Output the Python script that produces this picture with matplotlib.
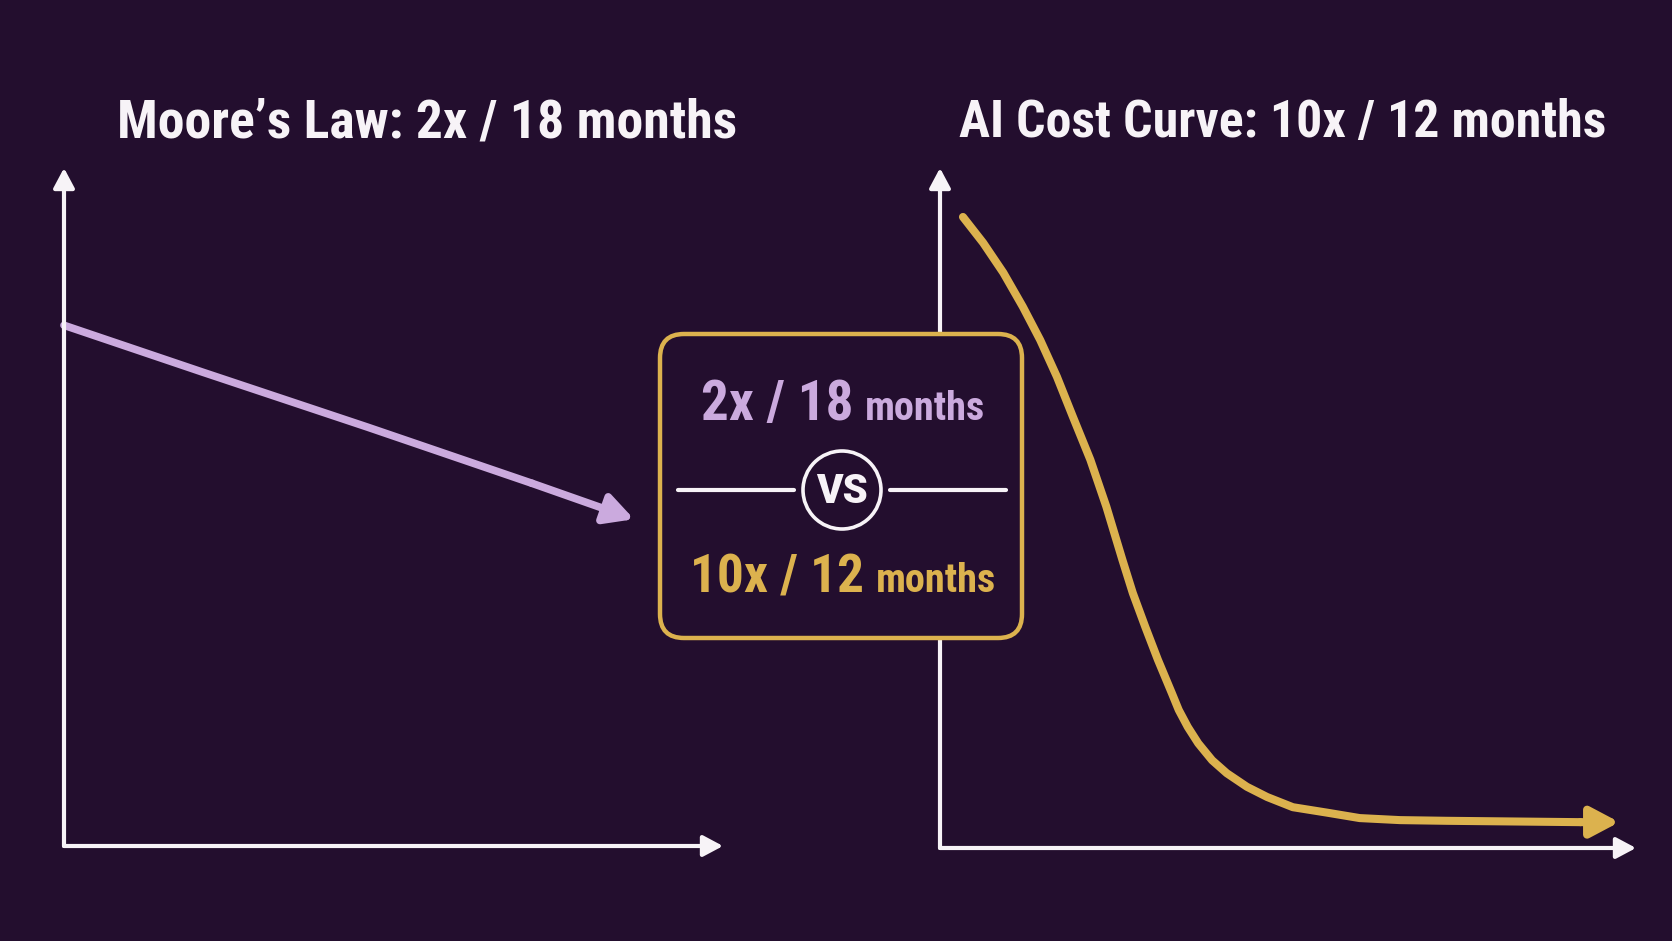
import matplotlib
matplotlib.use('Agg')
import matplotlib.pyplot as plt
from matplotlib import font_manager
from matplotlib.patches import FancyBboxPatch, Circle

# colours
bg = '#230e2e'
purple = '#cbaade'
gold = '#dcb24e'
white = '#f7f3f7'

# pick a condensed bold face if one is installed, otherwise Roboto
avail = {f.name for f in font_manager.fontManager.ttflist}
font = 'Roboto'
for name in ['Roboto Condensed', 'Liberation Sans Narrow', 'Open Sans Condensed',
             'DejaVu Sans Condensed']:
    if name in avail:
        font = name
        break
plt.rcParams['font.family'] = [font, 'DejaVu Sans']

# data (time and relative cost, both 0-100 of each chart's axes)
moore_t = [0, 21, 46, 71, 86.5]
moore_cost = [76.8, 69.9, 61.8, 53.5, 48.2]

ai_t = [3.3, 6.2, 9.1, 11.9, 14.4, 16.8, 19.1, 21.6, 23.9, 26.2, 27.7, 29.5,
        31.3, 33.3, 34.3, 35.6, 37.1, 39.1, 41.2, 44.1, 47.0, 50.7, 55.6, 60.3,
        66.1, 72.8, 92.0, 97.6]
ai_cost = [92.8, 89.0, 84.6, 79.6, 74.7, 69.3, 63.4, 57.1, 50.2, 42.4, 37.5, 32.5,
           27.7, 22.8, 20.3, 17.8, 15.4, 12.9, 11.0, 9.0, 7.5, 6.0, 5.2, 4.4,
           4.1, 4.0, 3.8, 3.8]

titles = ['Moore\u2019s Law: 2x / 18 months', 'AI Cost Curve: 10x / 12 months']
box_big = ['2x / 18', '10x / 12']
box_small = 'months'

W, H = 1672, 941
fig = plt.figure(figsize=(W / 100, H / 100), dpi=100, facecolor=bg)


def chart_axes(x0, x1, ybot, ytop):
    ax = fig.add_axes([x0 / W, (H - ybot) / H, (x1 - x0) / W, (ybot - ytop) / H])
    ax.set_xlim(0, 100); ax.set_ylim(0, 100)
    ax.axis('off')
    ax.patch.set_alpha(0)
    for xy in [(0, 1), (1, 0)]:
        ax.annotate('', xy=xy, xytext=(0, 0), xycoords='axes fraction',
                    arrowprops=dict(arrowstyle='-|>,head_length=0.75,head_width=0.4',
                                    color=white, lw=3.0, shrinkA=0, shrinkB=0,
                                    mutation_scale=16))
    return ax


def arrow_line(ax, x, y, color, lw):
    ax.plot(x[:-1], y[:-1], color=color, lw=lw, solid_capstyle='round',
            solid_joinstyle='round', clip_on=False)
    ax.annotate('', xy=(x[-1], y[-1]), xytext=(x[-2], y[-2]),
                arrowprops=dict(arrowstyle='-|>,head_length=0.85,head_width=0.45',
                                color=color, lw=lw, shrinkA=0, shrinkB=0,
                                mutation_scale=20, joinstyle='round'))


ax1 = chart_axes(64, 723, 846, 168)
arrow_line(ax1, moore_t, moore_cost, purple, 5.5)

ax2 = chart_axes(940, 1636, 848, 168)
arrow_line(ax2, ai_t, ai_cost, gold, 5.8)

# overlay in pixel units for titles and comparison box
ov = fig.add_axes([0, 0, 1, 1], zorder=5)
ov.set_xlim(0, W); ov.set_ylim(H, 0)
ov.axis('off')
ov.patch.set_alpha(0)

renderer = fig.canvas.get_renderer()


def fit(t, width, grow=False):
    # scale a text to the reference width (only shrink unless grow)
    w = t.get_window_extent(renderer).width
    if w > width or grow:
        t.set_fontsize(t.get_fontsize() * width / w)
    return t.get_window_extent(renderer).width


t1 = ov.text(427, 137, titles[0], color=white, fontsize=37, fontweight='heavy',
             ha='center', va='baseline')
t2 = ov.text(1283, 137, titles[1], color=white, fontsize=37, fontweight='heavy',
             ha='center', va='baseline')
fit(t1, 620, grow=True)
fit(t2, 646, grow=True)

box = FancyBboxPatch((660, 334), 362, 304, boxstyle='round,pad=0,rounding_size=24',
                     facecolor=bg, edgecolor=gold, lw=3.2)
ov.add_patch(box)

rows = [(box_big[0], purple, 420, 152, 126), (box_big[1], gold, 592, 174, 124)]
for big, col, base, wb, ws in rows:
    tb = ov.text(0, base, big, color=col, fontsize=40, fontweight='heavy',
                 ha='left', va='baseline')
    ts = ov.text(0, base, box_small, color=col, fontsize=29, fontweight='heavy',
                 ha='left', va='baseline')
    wb = fit(tb, wb)
    ws = fit(ts, ws)
    x0 = 843 - (wb + 12 + ws) / 2
    tb.set_x(x0)
    ts.set_x(x0 + wb + 12)

ov.plot([678, 794], [490, 490], color=white, lw=3, solid_capstyle='round')
ov.plot([890, 1006], [490, 490], color=white, lw=3, solid_capstyle='round')
ov.add_patch(Circle((842, 490), 39, facecolor=bg, edgecolor=white, lw=2.6))
ov.text(842, 491, 'VS', color=white, fontsize=29, fontweight='heavy',
        ha='center', va='center', family=['Roboto', 'DejaVu Sans'])

plt.savefig('out.png', dpi=100, facecolor=bg)
